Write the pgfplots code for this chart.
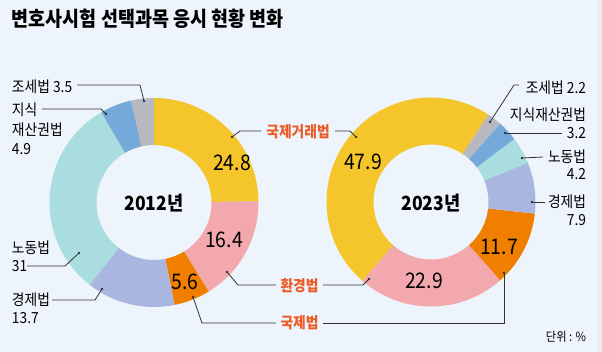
\documentclass[border=0pt]{standalone}
\usepackage{pgfplots}
\pgfplotsset{compat=1.18}
\usepackage{pgfplotstable}
\usepackage{fontspec}
\setmainfont{Noto Sans CJK KR}[FakeStretch=0.9]
\definecolor{bg}{HTML}{EEF4FC}
\definecolor{band}{HTML}{EAEBEE}
\definecolor{cYel}{HTML}{F5C52C}
\definecolor{cPink}{HTML}{F2A8AC}
\definecolor{cOra}{HTML}{F07F00}
\definecolor{cLav}{HTML}{A9B6E0}
\definecolor{cCya}{HTML}{AADDDF}
\definecolor{cBlu}{HTML}{75A9D9}
\definecolor{cGry}{HTML}{B8B8C0}
\definecolor{red}{HTML}{EC5B26}
\definecolor{lc}{HTML}{333333}

\pgfplotstableread{
val col
24.8 cYel
16.4 cPink
5.6 cOra
13.7 cLav
31 cCya
4.9 cBlu
3.5 cGry
}\dataA
\pgfplotstableread{
val col
47.9 cYel
22.9 cPink
11.7 cOra
7.9 cLav
4.2 cCya
3.2 cBlu
2.2 cGry
}\dataB

\newcommand\donut[5]{%
  \pgfplotstablegetrowsof{#1}\pgfmathtruncatemacro\nrows{\pgfplotsretval-1}%
  \gdef\tot{0}%
  \foreach \i in {0,...,\nrows}{\pgfplotstablegetelem{\i}{val}\of{#1}\pgfmathsetmacro\t{\tot+\pgfplotsretval}\xdef\tot{\t}}%
  \xdef\curang{#4}%
  \foreach \i in {0,...,\nrows}{%
    \pgfplotstablegetelem{\i}{val}\of{#1}\let\v\pgfplotsretval
    \pgfplotstablegetelem{\i}{col}\of{#1}\let\cc\pgfplotsretval
    \pgfmathsetmacro\endang{\curang+#5*\v/\tot*360}%
    \fill[fill=\cc,shift={(axis cs:#2,#3)}] (\curang:104.5pt) arc[start angle=\curang,end angle=\endang,radius=104.5pt] -- (\endang:57.5pt) arc[start angle=\endang,end angle=\curang,radius=57.5pt] -- cycle;
    \xdef\curang{\endang}%
  }}
\newcommand\lab{\fontsize{15.3}{16}\selectfont}
\newcommand\rlab{\fontsize{15.3}{16}\selectfont\bfseries\color{red}}
\newcommand\num{\fontsize{21.5}{22}\selectfont}
\newcommand\yr{\fontsize{19.5}{20}\selectfont\bfseries}

\begin{document}
\begin{tikzpicture}
\begin{axis}[x=1pt,y=1pt,xmin=0,xmax=602,ymin=0,ymax=352,y dir=reverse,
  hide axis,clip=false,scale only axis]
\pgfplotsextra{
  \fill[bg] (axis cs:0,0) rectangle (axis cs:602,352);
  \fill[band] (axis cs:598,0) rectangle (axis cs:602,352);
  \donut{\dataA}{154}{202.5}{90}{-1}
  \donut{\dataB}{431}{202}{56.6}{1}
  \begin{scope}[every node/.style={inner sep=0pt,outer sep=0pt}]
  \node[anchor=west] at (axis cs:12,18.5) {\fontsize{20.5}{21}\selectfont\bfseries 변호사시험 선택과목 응시 현황 변화};
  % centres
  \node at (axis cs:154,203.5) {\yr 2012년};
  \node at (axis cs:431,203.5) {\yr 2023년};
  % inner values
  \node at (axis cs:232,163) {\num 24.8};
  \node at (axis cs:224,240) {\num 16.4};
  \node at (axis cs:185,282) {\num 5.6};
  \node at (axis cs:363,162) {\num 47.9};
  \node at (axis cs:499,247) {\num 11.7};
  \node at (axis cs:424,281) {\num 22.9};
  % left labels
  \node[anchor=west] at (axis cs:12,87) {\lab 조세법 3.5};
  \node[anchor=west] at (axis cs:12,110) {\lab 지식};
  \node[anchor=west] at (axis cs:12,130) {\lab 재산권법};
  \node[anchor=west] at (axis cs:12,149) {\lab 4.9};
  \node[anchor=west] at (axis cs:12,248) {\lab 노동법};
  \node[anchor=west] at (axis cs:12,266) {\lab 31};
  \node[anchor=west] at (axis cs:12,300) {\lab 경제법};
  \node[anchor=west] at (axis cs:12,318) {\lab 13.7};
  % right labels
  \node[anchor=east] at (axis cs:586,88) {\lab 조세법 2.2};
  \node[anchor=east] at (axis cs:586,115) {\lab 지식재산권법};
  \node[anchor=east] at (axis cs:586,133.5) {\lab 3.2};
  \node[anchor=east] at (axis cs:586,157) {\lab 노동법};
  \node[anchor=east] at (axis cs:586,174) {\lab 4.2};
  \node[anchor=east] at (axis cs:586,202) {\lab 경제법};
  \node[anchor=east] at (axis cs:586,220) {\lab 7.9};
  \node[anchor=east] at (axis cs:586,337) {\fontsize{12.5}{13}\selectfont 단위 : \%};
  % red middle labels
  \node at (axis cs:298,131.5) {\rlab 국제거래법};
  \node at (axis cs:299.5,286) {\rlab 환경법};
  \node at (axis cs:299.5,323) {\rlab 국제법};
  \end{scope}
  % leader lines
  \begin{scope}[lc,line width=0.8pt]
  \draw (axis cs:77,85) -- (axis cs:140,85) -- (axis cs:144,101);
  \fill (axis cs:144,101) circle[radius=1.3pt];
  \draw (axis cs:42,109) -- (axis cs:101,109) -- (axis cs:106,114);
  \fill (axis cs:106,114) circle[radius=1.3pt];
  \draw (axis cs:27,266) -- (axis cs:65,266) -- (axis cs:79,253);
  \fill (axis cs:79,253) circle[radius=1.3pt];
  \draw (axis cs:52,300) -- (axis cs:95,300) -- (axis cs:102,289);
  \fill (axis cs:102,289) circle[radius=1.3pt];
  \draw (axis cs:261,131) -- (axis cs:240,131) -- (axis cs:232,137);
  \fill (axis cs:232,137) circle[radius=1.3pt];
  \draw (axis cs:335,131) -- (axis cs:350,131) -- (axis cs:356,137);
  \fill (axis cs:356,137) circle[radius=1.3pt];
  \draw (axis cs:227,272) -- (axis cs:238,285) -- (axis cs:276,285);
  \fill (axis cs:227,272) circle[radius=1.3pt];
  \draw (axis cs:323,285) -- (axis cs:363,285) -- (axis cs:369,279);
  \fill (axis cs:369,279) circle[radius=1.3pt];
  \draw (axis cs:193,297) -- (axis cs:202,323) -- (axis cs:276,323);
  \fill (axis cs:193,297) circle[radius=1.3pt];
  \draw (axis cs:323,323) -- (axis cs:504,323) -- (axis cs:504,273);
  \fill (axis cs:504,273) circle[radius=1.3pt];
  \draw (axis cs:519,85) -- (axis cs:514,85) -- (axis cs:490,122);
  \fill (axis cs:490,122) circle[radius=1.3pt];
  \draw (axis cs:562,133) -- (axis cs:505,133);
  \fill (axis cs:505,133) circle[radius=1.3pt];
  \draw (axis cs:543,157) -- (axis cs:522,158);
  \fill (axis cs:522,158) circle[radius=1.3pt];
  \draw (axis cs:545,202) -- (axis cs:532,202);
  \fill (axis cs:532,202) circle[radius=1.3pt];
  \end{scope}
}
\end{axis}
\end{tikzpicture}
\end{document}
